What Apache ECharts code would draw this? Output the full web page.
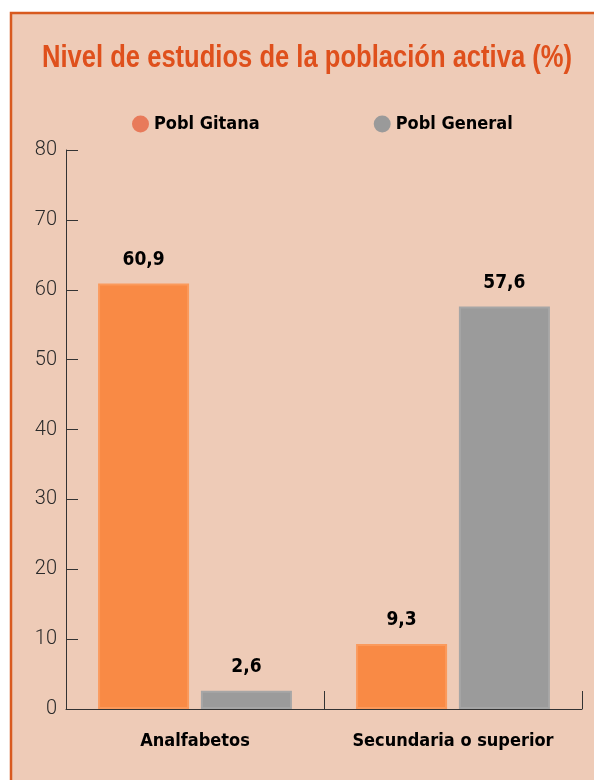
<!DOCTYPE html>
<html><head><meta charset="utf-8">
<script src="https://cdn.jsdelivr.net/npm/echarts@6/dist/echarts.min.js"></script>
<style>html,body{margin:0;padding:0;background:#fff;}#c{width:594px;height:780px;}</style>
</head><body><div id="c"></div>
<script>
const categories = ['Analfabetos', 'Secundaria o superior'];
const seriesNames = ['Pobl Gitana', 'Pobl General'];
const gitana = [60.9, 9.3];
const general = [2.6, 57.6];
const yTicks = [0, 10, 20, 30, 40, 50, 60, 70, 80];
const titleText = 'Nivel de estudios de la población activa (%)';

const condensed = '"DejaVu Sans Condensed", "Liberation Sans Narrow", sans-serif';
const fmt = p => String(p.value).replace('.', ',');

// horizontal squeeze for title to mimic a condensed bold face
const titleFont = 'bold 31px "Liberation Sans", Arial, sans-serif';
const cv = document.createElement('canvas').getContext('2d');
cv.font = titleFont;
const titleScale = 530 / cv.measureText(titleText).width;

const chart = echarts.init(document.getElementById('c'), null, {renderer: 'canvas'});
chart.setOption({
  backgroundColor: '#ffffff',
  animation: false,
  graphic: [{
    type: 'rect', z: -10, silent: true,
    shape: {x: 11, y: 13, width: 620, height: 800},
    style: {fill: '#eecbb7', stroke: '#d85a1f', lineWidth: 2.5}
  }, {
    type: 'text', x: 307, y: 58, scaleX: titleScale, silent: true,
    style: {text: titleText, font: titleFont, fill: '#df501c', align: 'center', verticalAlign: 'middle'}
  }],
  legend: {
    top: 110, left: 127, itemGap: 114, itemTextGap: 8,
    icon: 'circle', itemWidth: 17, itemHeight: 17,
    textStyle: {fontFamily: condensed, fontWeight: 'bold', fontSize: 18, color: '#000'},
    data: [
      {name: seriesNames[0], itemStyle: {color: '#e87a5a', borderWidth: 0}},
      {name: seriesNames[1], itemStyle: {color: '#9a9a9a', borderWidth: 0}}
    ]
  },
  grid: {left: 66, right: 12, top: 150, bottom: 71, containLabel: false},
  xAxis: {
    type: 'category', data: categories,
    axisLine: {lineStyle: {color: '#333', width: 1}},
    axisTick: {show: true, inside: true, length: 18, lineStyle: {color: '#333'}},
    axisLabel: {interval: 0, fontFamily: condensed, fontWeight: 'bold', fontSize: 18, color: '#000', margin: 23}
  },
  yAxis: {
    type: 'value', min: 0, max: 80, interval: 10,
    axisLine: {show: true, lineStyle: {color: '#333', width: 1}},
    axisTick: {show: true, inside: true, length: 12, lineStyle: {color: '#333'}},
    splitLine: {show: false},
    axisLabel: {fontFamily: 'Roboto, sans-serif', fontWeight: 300, fontSize: 20, color: '#2a2a2a', margin: 9,
      formatter: v => yTicks.includes(v) ? String(v) : ''}
  },
  series: [
    {name: seriesNames[0], type: 'bar', data: gitana, barWidth: 91, barGap: '13%',
     itemStyle: {color: '#f98a45', borderColor: '#fb9a5c', borderWidth: 2},
     label: {show: true, position: 'top', distance: 14, formatter: fmt,
       fontFamily: condensed, fontWeight: 'bold', fontSize: 19, color: '#000'}},
    {name: seriesNames[1], type: 'bar', data: general, barWidth: 91,
     itemStyle: {color: '#9b9b9b', borderColor: '#a6a6a6', borderWidth: 2},
     label: {show: true, position: 'top', distance: 14, formatter: fmt,
       fontFamily: condensed, fontWeight: 'bold', fontSize: 19, color: '#000'}}
  ]
});
</script></body></html>
